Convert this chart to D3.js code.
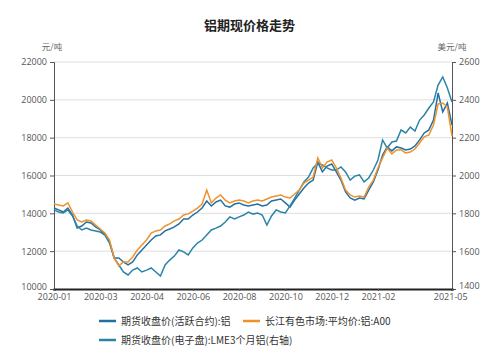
<!DOCTYPE html>
<html>
<head>
<meta charset="utf-8">
<script src="https://cdn.jsdelivr.net/npm/d3@7"></script>
<style>
  body { margin: 0; background: #fff; }
  text { font-family: "Noto Sans CJK SC", "Noto Sans", sans-serif; }
</style>
</head>
<body>
<div id="chart"></div>
<script>
// DATA
const tickLabels = ["2020-01", "2020-03", "2020-04", "2020-06", "2020-08", "2020-10", "2020-12", "2021-02", "2021-05"];
const tickIndex = [0, 20, 40, 60, 80, 100, 120, 140, 172];
const seriesNames = ["期货收盘价(活跃合约):铝", "长江有色市场:平均价:铝:A00", "期货收盘价(电子盘):LME3个月铝(右轴)"];

// every 2nd trading day
const shfe = [14280,14180,14070,14280,13910,13230,13330,13540,13490,13280,
  13120,12910,12490,11640,11640,11430,11270,11430,11800,12060,
  12330,12590,12800,12860,13070,13170,13280,13440,13700,13700,
  13910,14070,14280,14650,14390,14600,14700,14390,14330,14490,
  14550,14440,14390,14440,14490,14390,14440,14650,14700,14760,
  14550,14330,14700,15020,15340,15600,15760,16710,16190,16500,
  16610,16190,15760,15130,14810,14700,14810,14760,15230,15660,
  16290,17080,17510,17300,17510,17450,17350,17400,17560,17880,
  18250,18410,18930,20360,19360,19830,18670];

const changjiang = [14490,14440,14390,14550,14070,13650,13540,13650,13600,13380,
  13170,12960,12590,11640,11220,11430,11430,11690,12060,12330,
  12590,12960,13070,13120,13330,13440,13600,13700,13910,13970,
  14120,14280,14490,15230,14550,14810,14970,14700,14550,14650,
  14700,14650,14550,14650,14700,14650,14760,14860,14920,14970,
  14860,14810,15020,15230,15600,15760,15920,16930,16400,16710,
  16820,16400,15870,15230,14970,14860,14920,14860,15390,15760,
  16400,16930,17450,17140,17350,17350,17190,17240,17400,17720,
  18040,18140,18670,19780,19830,19620,18090];

const lme = [1818,1807,1802,1818,1786,1733,1712,1722,1712,1707,
  1701,1685,1643,1564,1527,1490,1474,1500,1511,1490,
  1500,1511,1490,1469,1527,1553,1574,1606,1596,1580,
  1617,1643,1659,1685,1712,1722,1733,1754,1781,1770,
  1781,1791,1807,1796,1802,1791,1738,1786,1818,1807,
  1802,1839,1881,1923,1966,1992,2040,2066,2056,2040,
  2029,2029,2045,2019,1976,1997,2003,1966,1987,2029,
  2082,2188,2145,2177,2182,2241,2225,2256,2235,2293,
  2320,2357,2389,2478,2521,2463,2389];

const COLORS = ["#2370a2", "#f0922b", "#2b84a8"];
const WIDTH = 499, HEIGHT = 353;
const PLOT = { LEFT: 54, RIGHT: 452, TOP: 62, BOTTOM: 289 };

const svg = d3
  .select("#chart")
  .append("svg")
  .attr("width", WIDTH)
  .attr("height", HEIGHT);

// SCALES
const x = d3.scaleLinear().domain([0, 172]).range([PLOT.LEFT, PLOT.RIGHT]);
const yLeft = d3.scaleLinear().domain([10000, 22000]).range([PLOT.BOTTOM, PLOT.TOP]);
const yRight = d3.scaleLinear().domain([1400, 2600]).range([PLOT.BOTTOM, PLOT.TOP]);

// TITLE
svg.append("text")
  .attr("x", WIDTH / 2)
  .attr("y", 30)
  .attr("text-anchor", "middle")
  .attr("font-size", "13px")
  .attr("font-weight", "bold")
  .style("fill", "#222")
  .text("铝期现价格走势");

svg.append("text")
  .attr("x", 52).attr("y", 50)
  .attr("text-anchor", "middle")
  .attr("font-size", "8.5px")
  .style("fill", "#666")
  .text("元/吨");

svg.append("text")
  .attr("x", 452).attr("y", 50)
  .attr("text-anchor", "middle")
  .attr("font-size", "8.5px")
  .style("fill", "#666")
  .text("美元/吨");

// GRID
svg.append("g")
  .selectAll("line")
  .data(yLeft.ticks(6).filter((d) => d > 10000))
  .enter()
  .append("line")
  .attr("x1", PLOT.LEFT)
  .attr("x2", PLOT.RIGHT)
  .attr("y1", (d) => yLeft(d))
  .attr("y2", (d) => yLeft(d))
  .style("stroke", "#dedede");

// AXIS
const leftAxis = svg.append("g")
  .attr("transform", `translate(${PLOT.LEFT}, 0)`)
  .call(d3.axisLeft(yLeft).tickValues(d3.range(10000, 22001, 2000)).tickSize(4).tickPadding(3).tickFormat(d3.format("d")));

const rightAxis = svg.append("g")
  .attr("transform", `translate(${PLOT.RIGHT}, 0)`)
  .call(d3.axisRight(yRight).tickValues(d3.range(1400, 2601, 200)).tickSize(4).tickPadding(3).tickFormat(d3.format("d")));

const bottomAxis = svg.append("g")
  .attr("transform", `translate(0, ${PLOT.BOTTOM})`)
  .call(d3.axisBottom(x).tickValues(tickIndex).tickSize(2).tickPadding(3).tickFormat((d, i) => tickLabels[i]));

[leftAxis, rightAxis, bottomAxis].forEach((g) => {
  g.selectAll(".domain").style("stroke", "#555");
  g.selectAll(".tick line").style("stroke", "#555");
  g.selectAll(".tick text")
    .attr("font-size", "9px")
    .style("fill", "#555")
    .style("font-family", "\"Open Sans\", \"Noto Sans\", sans-serif");
});
bottomAxis.select(".domain").style("stroke", "#222").style("stroke-width", 2);
// nudge the two bottom-most y labels up so they clear the date labels
leftAxis.selectAll(".tick text").filter((d) => d === 10000).attr("dy", "0em");
rightAxis.selectAll(".tick text").filter((d) => d === 1400).attr("dy", "-0.05em");
bottomAxis.selectAll(".tick text").filter((d) => d === 172).attr("dx", "-0.2em");

// LINES
const lineLeft = d3.line()
  .x((d, i) => x(i * 2))
  .y((d) => yLeft(d));
const lineRight = d3.line()
  .x((d, i) => x(i * 2))
  .y((d) => yRight(d));

svg.append("path")
  .datum(shfe)
  .attr("d", lineLeft)
  .attr("fill", "none")
  .attr("stroke", COLORS[0])
  .attr("stroke-width", 1.5);

svg.append("path")
  .datum(lme)
  .attr("d", lineRight)
  .attr("fill", "none")
  .attr("stroke", COLORS[2])
  .attr("stroke-width", 1.5);

svg.append("path")
  .datum(changjiang)
  .attr("d", lineLeft)
  .attr("fill", "none")
  .attr("stroke", COLORS[1])
  .attr("stroke-width", 1.5);

// LEGEND
const legendItems = [
  { x: 99, y: 321, name: seriesNames[0], color: COLORS[0] },
  { x: 243, y: 321, name: seriesNames[1], color: COLORS[1] },
  { x: 99, y: 340, name: seriesNames[2], color: COLORS[2] }
];

const legend = svg.append("g")
  .selectAll("g")
  .data(legendItems)
  .enter()
  .append("g")
  .attr("transform", (d) => `translate(${d.x}, ${d.y})`);

legend.append("line")
  .attr("x1", 0).attr("x2", 17)
  .attr("stroke", (d) => d.color)
  .attr("stroke-width", 2.5);

legend.append("text")
  .attr("x", 22)
  .attr("dy", "0.35em")
  .attr("font-size", "10px")
  .style("fill", "#333")
  .text((d) => d.name);
</script>
</body>
</html>
